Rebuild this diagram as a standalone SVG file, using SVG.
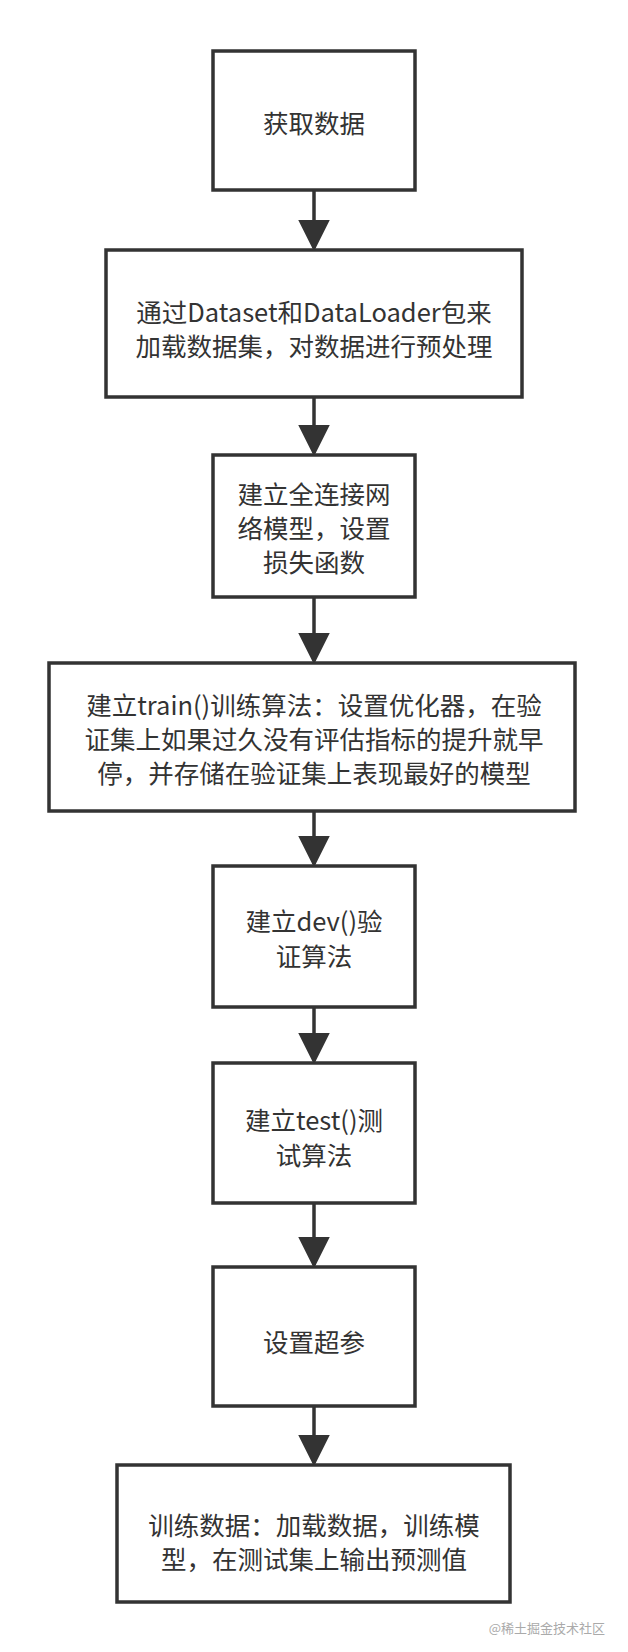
<svg xmlns="http://www.w3.org/2000/svg" width="628" height="1652" viewBox="0 0 628 1652">
<style>
.b{fill:#fff;stroke:#333;stroke-width:3.5}
.t{font-family:"Noto Sans CJK SC","Noto Sans",sans-serif;font-size:25.5px;fill:#333;text-anchor:middle;dominant-baseline:central}
.c{stroke:#333;stroke-width:3.5;fill:none}
.w{font-family:"Noto Sans CJK SC",sans-serif;font-size:13px;fill:#aaa;text-anchor:end}
</style>
<defs><marker id="a" markerWidth="9" markerHeight="9" refX="8" refY="4.5" orient="auto" markerUnits="strokeWidth"><path d="M0,0 L9,4.5 L0,9 Z" fill="#333"/></marker></defs>
<rect width="628" height="1652" fill="#fff"/>
<g id="connectors">
<line class="c" x1="314" y1="190" x2="314" y2="248" marker-end="url(#a)"/>
<line class="c" x1="314" y1="397" x2="314" y2="453" marker-end="url(#a)"/>
<line class="c" x1="314" y1="597" x2="314" y2="661" marker-end="url(#a)"/>
<line class="c" x1="314" y1="811" x2="314" y2="864" marker-end="url(#a)"/>
<line class="c" x1="314" y1="1007" x2="314" y2="1061" marker-end="url(#a)"/>
<line class="c" x1="314" y1="1203" x2="314" y2="1265" marker-end="url(#a)"/>
<line class="c" x1="314" y1="1406" x2="314" y2="1463" marker-end="url(#a)"/>
</g>
<g id="n1"><rect class="b" x="213" y="51" width="202" height="139"/><text class="t" x="314" y="121">获取数据</text></g>
<g id="n2"><rect class="b" x="106" y="250" width="416" height="147"/><text class="t" x="314" y="310">通过Dataset和DataLoader包来</text><text class="t" x="314" y="344">加载数据集，对数据进行预处理</text></g>
<g id="n3"><rect class="b" x="213" y="455" width="202" height="142"/><text class="t" x="314" y="492">建立全连接网</text><text class="t" x="314" y="526">络模型，设置</text><text class="t" x="314" y="560">损失函数</text></g>
<g id="n4"><rect class="b" x="49" y="663" width="526" height="148"/><text class="t" x="314" y="703">建立train()训练算法：设置优化器，在验</text><text class="t" x="314" y="737">证集上如果过久没有评估指标的提升就早</text><text class="t" x="314" y="771">停，并存储在验证集上表现最好的模型</text></g>
<g id="n5"><rect class="b" x="213" y="866" width="202" height="141"/><text class="t" x="314" y="919">建立dev()验</text><text class="t" x="314" y="954">证算法</text></g>
<g id="n6"><rect class="b" x="213" y="1063" width="202" height="140"/><text class="t" x="314" y="1118">建立test()测</text><text class="t" x="314" y="1153">试算法</text></g>
<g id="n7"><rect class="b" x="213" y="1267" width="202" height="139"/><text class="t" x="314" y="1340">设置超参</text></g>
<g id="n8"><rect class="b" x="117" y="1465" width="393" height="137"/><text class="t" x="314" y="1523">训练数据：加载数据，训练模</text><text class="t" x="314" y="1557">型，在测试集上输出预测值</text></g>
<text class="w" x="605" y="1633">@稀土掘金技术社区</text>
</svg>
